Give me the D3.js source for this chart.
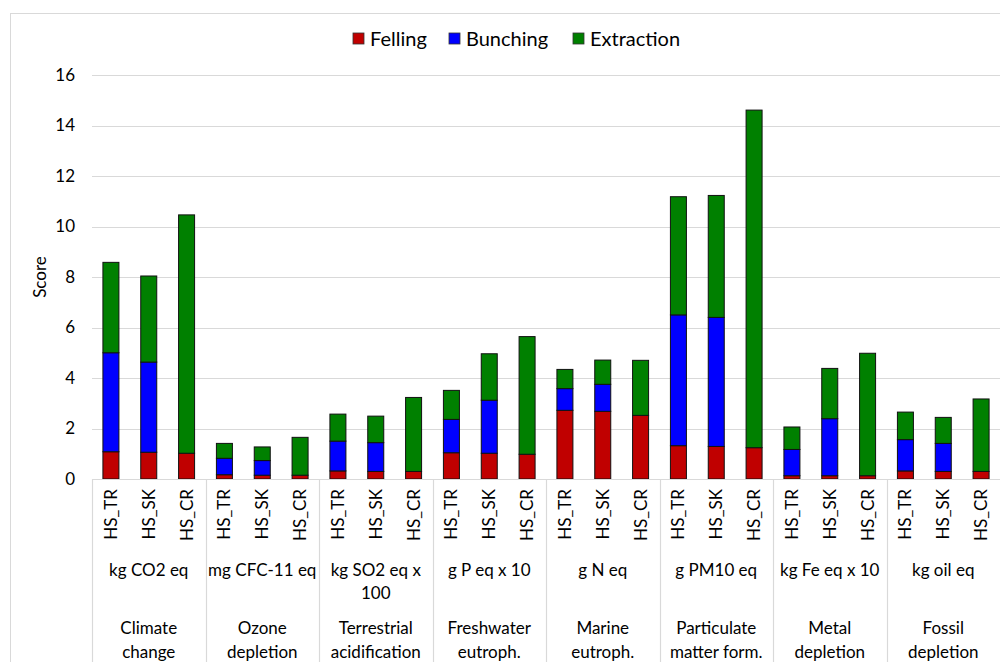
<!DOCTYPE html>
<html><head><meta charset="utf-8">
<script src="https://cdn.jsdelivr.net/npm/d3@7/dist/d3.min.js"></script>
<style>
html,body{margin:0;padding:0;background:#fff;}
svg{display:block;font-family:Lato,"Open Sans",sans-serif;}
</style></head>
<body>
<svg id="chart" width="1000" height="662"></svg>
<script>
const categories = ["Climate\nchange","Ozone\ndepletion","Terrestrial\nacidification","Freshwater\neutroph.","Marine\neutroph.","Particulate\nmatter form.","Metal\ndepletion","Fossil\ndepletion"];
const units = ["kg CO2 eq","mg CFC-11 eq","kg SO2 eq x\n100","g P eq x 10","g N eq","g PM10 eq","kg Fe eq x 10","kg oil eq"];
const systems = ["HS_TR","HS_SK","HS_CR"];
const seriesNames = ["Felling","Bunching","Extraction"];
const felling    = [1.08,1.06,1.02, 0.17,0.15,0.15, 0.32,0.30,0.30, 1.04,1.02,0.98, 2.72,2.68,2.52, 1.32,1.29,1.24, 0.13,0.13,0.13, 0.32,0.30,0.30];
const bunching   = [3.92,3.57,0, 0.65,0.58,0, 1.18,1.14,0, 1.32,2.10,0, 0.86,1.07,0, 5.18,5.11,0, 1.04,2.26,0, 1.24,1.11,0];
const extraction = [3.58,3.41,9.44, 0.59,0.54,1.50, 1.07,1.05,2.93, 1.15,1.84,4.66, 0.76,0.96,2.18, 4.68,4.83,13.37, 0.89,1.99,4.85, 1.09,1.03,2.87];
const yTicks = [0,2,4,6,8,10,12,14,16];
const colors = ["#C00000","#0000FF","#008000"];

const svg = d3.select("#chart");
const mLeft = 92, mRight = 1000, mTop = 75, mBottom = 479;
const fs = 17;

// outer frame
svg.append("rect").attr("x",10.5).attr("y",13.5).attr("width",1000).attr("height",700)
  .attr("fill","none").attr("stroke","#d9d9d9").attr("stroke-width",1);

const y = d3.scaleLinear().domain([0,16]).range([mBottom, mTop]);
const x0 = d3.scaleBand().domain(categories).range([mLeft, mRight]).padding(0);
const x1 = d3.scalePoint().domain(systems).range([0, x0.bandwidth()]).padding(0.5);

// gridlines
svg.append("g").selectAll("line").data(yTicks.filter(d=>d>0)).join("line")
  .attr("x1",mLeft).attr("x2",mRight)
  .attr("y1",d=>Math.round(y(d))+0.5).attr("y2",d=>Math.round(y(d))+0.5)
  .attr("stroke","#d9d9d9").attr("stroke-width",1.2);

// y axis labels
const yAxis = d3.axisLeft(y).tickValues(yTicks).tickSize(0).tickPadding(0);
const gy = svg.append("g").attr("transform",`translate(${mLeft-17},0)`).call(yAxis);
gy.select(".domain").remove();
gy.selectAll("text").attr("font-size",fs).attr("fill","#000").attr("font-family","Lato,sans-serif");

svg.append("text").attr("transform",`translate(46,${(mTop+mBottom)/2}) rotate(-90)`)
  .attr("text-anchor","middle").attr("font-size",fs).attr("fill","#000").text("Score");

// data rows
const rows = [];
categories.forEach((c,i)=>systems.forEach((s,j)=>{
  const k=i*3+j;
  rows.push({cat:c, sys:s, Felling:felling[k], Bunching:bunching[k], Extraction:extraction[k]});
}));
const stack = d3.stack().keys(seriesNames)(rows);
const barW = 16;
svg.append("g").selectAll("g").data(stack).join("g")
  .attr("fill",(d,i)=>colors[i])
  .selectAll("rect").data(d=>d.filter(p=>p[1]-p[0]>0)).join("rect")
  .attr("x",d=>x0(d.data.cat)+x1(d.data.sys)-barW/2)
  .attr("width",barW)
  .attr("y",d=>y(d[1]))
  .attr("height",d=>y(d[0])-y(d[1]))
  .attr("stroke","#111").attr("stroke-width",1);

// x axis line
svg.append("line").attr("x1",mLeft).attr("x2",mRight).attr("y1",mBottom+0.5).attr("y2",mBottom+0.5)
  .attr("stroke","#d9d9d9").attr("stroke-width",1.2);
// separators
svg.append("g").selectAll("line").data(categories).join("line")
  .attr("x1",d=>Math.round(x0(d))+0.5).attr("x2",d=>Math.round(x0(d))+0.5)
  .attr("y1",mBottom).attr("y2",662).attr("stroke","#d9d9d9").attr("stroke-width",1.2);

// system labels
svg.append("g").selectAll("text").data(rows).join("text")
  .attr("transform",d=>`translate(${x0(d.cat)+x1(d.sys)+6},489) rotate(-90)`)
  .attr("text-anchor","end").attr("font-size",fs).attr("fill","#000").text(d=>d.sys);

// unit labels
const ug = svg.append("g").selectAll("text").data(units).join("text")
  .attr("text-anchor","middle").attr("font-size",fs).attr("fill","#000");
ug.each(function(d,i){
  const cx = x0(categories[i])+x0.bandwidth()/2;
  d.split("\n").forEach((l,k)=>d3.select(this).append("tspan").attr("x",cx).attr("y",576+k*23).text(l));
});
const cg = svg.append("g").selectAll("text").data(categories).join("text")
  .attr("text-anchor","middle").attr("font-size",fs).attr("fill","#000");
cg.each(function(d){
  const cx = x0(d)+x0.bandwidth()/2;
  d.split("\n").forEach((l,k)=>d3.select(this).append("tspan").attr("x",cx).attr("y",634+k*24).text(l));
});

// legend
const legX = [353, 449, 573];
const lg = svg.append("g").selectAll("g").data(seriesNames).join("g")
  .attr("transform",(d,i)=>`translate(${legX[i]},33)`);
lg.append("rect").attr("width",11).attr("height",11).attr("fill",(d,i)=>colors[i]).attr("stroke","#333").attr("stroke-width",0.8);
lg.append("text").attr("x",17).attr("y",12.5).attr("font-size",20).attr("fill","#000").text(d=>d);
</script>
</body></html>
